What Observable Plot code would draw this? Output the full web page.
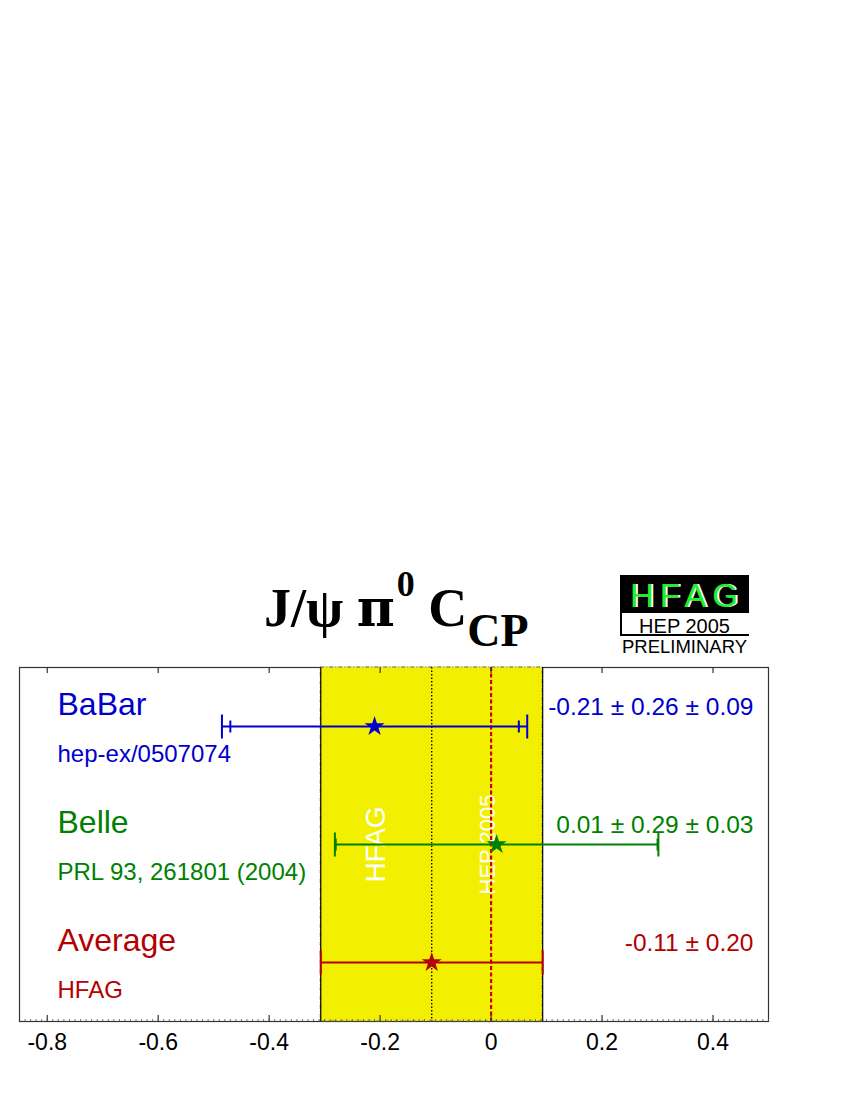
<!DOCTYPE html>
<html>
<head>
<meta charset="utf-8">
<script src="https://cdn.jsdelivr.net/npm/d3@7"></script>
<script src="https://cdn.jsdelivr.net/npm/@observablehq/plot@0.6"></script>
<style>
  body { margin: 0; background: #fff; }
  #wrap { position: relative; width: 850px; height: 1100px; overflow: hidden; }
  .abs { position: absolute; white-space: nowrap; }
  #title { left: 264px; top: 580px; font-family: "Liberation Serif", "Times New Roman", serif; font-weight: bold; font-size: 54px; line-height: 56px; color: #000; }
  #title .pi { font-family: "DejaVu Serif", "Liberation Serif", serif; font-size: 52px; }
  #title .sup { position: relative; top: -30px; font-size: 36px; margin-left: 2px; }
  #title .sub { position: relative; top: 20px; font-size: 46px; }
  #logoBox { left: 620px; top: 575px; width: 129px; height: 38px; background: #000; }
  #logoText { left: 630px; top: 579px; font-family: "Liberation Sans", Arial, sans-serif; font-size: 33px; line-height: 33px; letter-spacing: 6px; }
  #logoBox2 { left: 620px; top: 612px; width: 127px; height: 22px; border-left: 2px solid #000; border-bottom: 2px solid #000; }
  .logoSmall { font-family: "Liberation Sans", Arial, sans-serif; color: #000; text-align: center; width: 129px; left: 620px; }
  #plot { position: absolute; left: 0; top: 660px; }
</style>
</head>
<body>
<div id="wrap">
  <div id="title" class="abs">J/ψ <span class="pi">π</span><span class="sup">0</span> C<span class="sub">CP</span></div>
  <div id="logoBox" class="abs"></div>
  <div class="abs" id="logoText"><span style="position:absolute;left:2px;top:0;color:#fff">HFAG</span><span style="position:relative;color:#22ee22">HFAG</span></div>
  <div id="logoBox2" class="abs"></div>
  <div class="abs logoSmall" style="top:616px;font-size:20px;line-height:20px;">HEP 2005</div>
  <div class="abs logoSmall" style="top:637px;font-size:18.5px;line-height:19px;">PRELIMINARY</div>
  <div id="plot"></div>
</div>
<script>
// ---- data ----
const experiments = ["BaBar", "Belle", "Average"];
const references = ["hep-ex/0507074", "PRL 93, 261801 (2004)", "HFAG"];
const centralValues = [-0.21, 0.01, -0.107];
const statErrors = [0.26, 0.29, 0.20];
const systErrors = [0.09, 0.03, 0];
const valueLabels = ["-0.21 ± 0.26 ± 0.09", "0.01 ± 0.29 ± 0.03", "-0.11 ± 0.20"];
const seriesColors = ["#0000cc", "#008000", "#b40000"];
const hep2005Line = [0];
const xTicks = [-0.8, -0.6, -0.4, -0.2, 0, 0.2, 0.4];
const xTickLabels = ["-0.8", "-0.6", "-0.4", "-0.2", "0", "0.2", "0.4"];
const xDomain = [-0.85, 0.5];

// ---- build table ----
const rows = experiments.map((name, i) => ({
  name,
  ref: references[i],
  v: centralValues[i],
  stat: statErrors[i],
  syst: systErrors[i],
  tot: Math.hypot(statErrors[i], systErrors[i]),
  label: valueLabels[i],
  color: seriesColors[i]
}));
const avg = rows.filter(d => d.name === "Average");
const withSyst = rows.filter(d => d.syst > 0);

const W = 850, H = 420, MT = 7, MB = 59, ML = 19, MR = 82;
const frameH = H - MT - MB;
const yellow = "#f2f000";
const font = "'Liberation Sans', Arial, Helvetica, sans-serif";

const vbar = { draw(ctx, size) { const r = Math.sqrt(size / Math.PI); ctx.moveTo(0, -r); ctx.lineTo(0, r); } };
const tickLabel = d => xTickLabels[xTicks.indexOf(d)];
const minorTicks = d3.range(-84, 51).map(k => k / 100);

const chart = Plot.plot({
  width: W, height: H,
  marginTop: MT, marginBottom: MB, marginLeft: ML, marginRight: MR,
  style: { fontFamily: font, background: "#fff", overflow: "visible" },
  x: { domain: xDomain },
  y: { type: "point", domain: experiments, padding: 0.5, axis: null },
  marks: [
    Plot.frame({ stroke: "#333", strokeWidth: 1.2 }),
    // averaged band
    Plot.rect(avg, { x1: d => d.v - d.stat, x2: d => d.v + d.stat, fill: yellow }),
    Plot.rect(avg, { x1: d => d.v - d.stat, x2: d => d.v + d.stat, fill: "none", stroke: "#666", strokeDasharray: "4,2,1,2" }),
    Plot.ruleX(avg, { x: d => d.v - d.stat, stroke: "#000", strokeWidth: 1.2 }),
    Plot.ruleX(avg, { x: d => d.v + d.stat, stroke: "#000", strokeWidth: 1.2 }),
    // band labels
    Plot.text(avg, { x: "v", y: () => "Belle", text: () => "HFAG", rotate: -90, dx: -56, fill: "#fff", fontSize: 28, textAnchor: "middle", lineAnchor: "middle" }),
    Plot.text(hep2005Line, { x: d => d, y: () => "Belle", text: () => "HEP 2005", rotate: -90, dx: -3, fill: "#fff", fontSize: 22, textAnchor: "middle", lineAnchor: "middle" }),
    // reference lines
    Plot.ruleX(avg, { x: "v", stroke: "#000", strokeWidth: 1.3, strokeDasharray: "1.5,2" }),
    Plot.ruleX(hep2005Line, { x: d => d, stroke: "#cc0000", strokeWidth: 2.2, strokeDasharray: "4,2.5" }),
    // error bars
    Plot.link(rows, { x1: d => d.v - d.tot, x2: d => d.v + d.tot, y1: "name", y2: "name", stroke: "color", strokeWidth: 2 }),
    Plot.dot(rows, { x: d => d.v - d.tot, y: "name", symbol: vbar, r: 12, fill: "none", stroke: "color", strokeWidth: 2 }),
    Plot.dot(rows, { x: d => d.v + d.tot, y: "name", symbol: vbar, r: 12, fill: "none", stroke: "color", strokeWidth: 2 }),
    Plot.dot(withSyst, { x: d => d.v - d.stat, y: "name", symbol: vbar, r: 6, fill: "none", stroke: "color", strokeWidth: 2 }),
    Plot.dot(withSyst, { x: d => d.v + d.stat, y: "name", symbol: vbar, r: 6, fill: "none", stroke: "color", strokeWidth: 2 }),
    Plot.dot(rows, { x: "v", y: "name", symbol: "star", r: 6.3, fill: "color", stroke: "none" }),
    // labels
    Plot.text(rows, { y: "name", text: "name", frameAnchor: "left", dx: 38, dy: -12, lineAnchor: "bottom", textAnchor: "start", fill: "color", fontSize: 32 }),
    Plot.text(rows, { y: "name", text: "ref", frameAnchor: "left", dx: 38, dy: 35, lineAnchor: "bottom", textAnchor: "start", fill: "color", fontSize: 24 }),
    Plot.text(rows, { y: "name", text: "label", frameAnchor: "right", dx: -15, dy: -12, lineAnchor: "bottom", textAnchor: "end", fill: "color", fontSize: 24.5 }),
    // ticks
    Plot.ruleX(xTicks, { x: d => d, insetTop: frameH - 6, stroke: "#333", strokeWidth: 1.2 }),
    Plot.ruleX(xTicks, { x: d => d, insetBottom: frameH - 6, stroke: "#333", strokeWidth: 1.2 }),
    Plot.ruleX(minorTicks, { x: d => d, insetTop: frameH - 2, stroke: "#555", strokeWidth: 0.8 }),
    Plot.axisX(xTicks, { tickSize: 0, tickPadding: 12, tickFormat: tickLabel, fontSize: 23, fill: "#000", label: null })
  ]
});
document.getElementById("plot").appendChild(chart);
</script>
</body>
</html>
